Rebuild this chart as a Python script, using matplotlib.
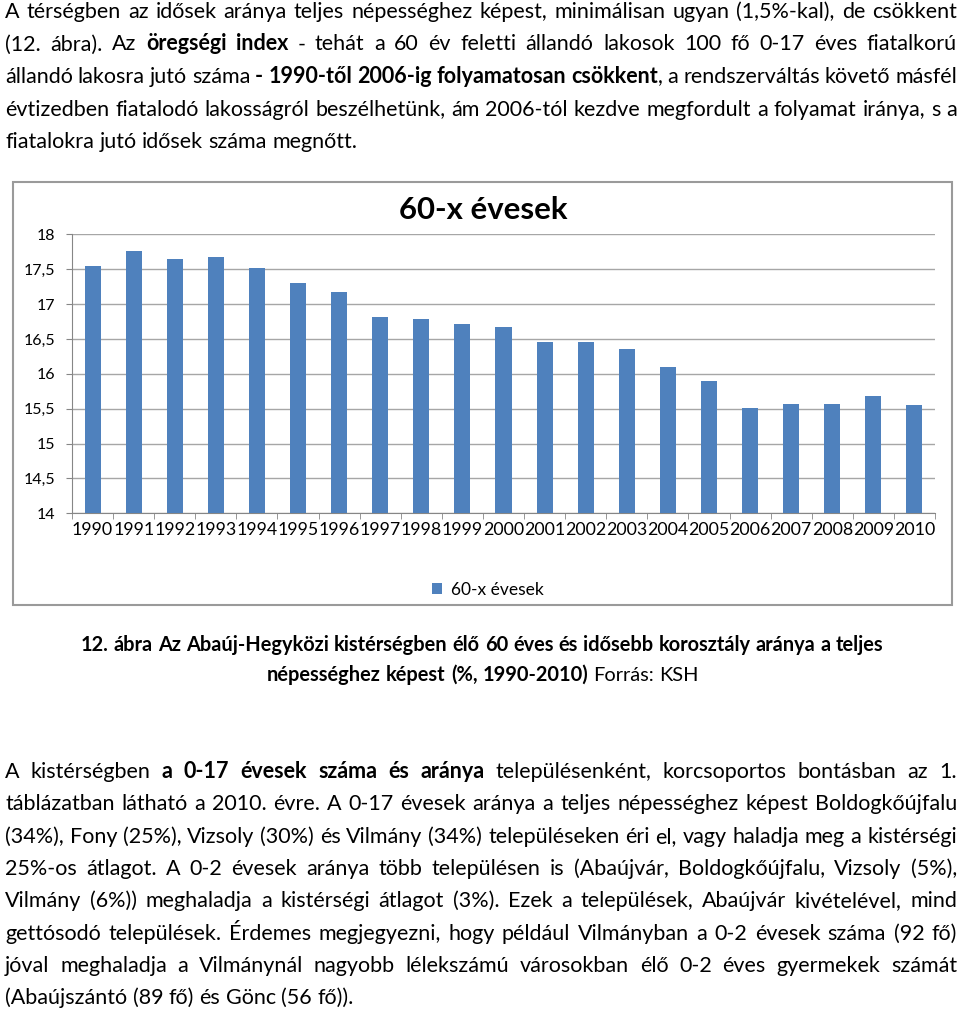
import matplotlib
matplotlib.use('Agg')
import matplotlib.pyplot as plt
from matplotlib.patches import Rectangle
import numpy as np

W, H = 960, 1017

# ---------------- data ----------------
years = ['1990', '1991', '1992', '1993', '1994', '1995', '1996', '1997', '1998', '1999',
         '2000', '2001', '2002', '2003', '2004', '2005', '2006', '2007', '2008', '2009', '2010']
values = [17.55, 17.76, 17.65, 17.68, 17.51, 17.30, 17.17, 16.82, 16.78, 16.71,
          16.67, 16.45, 16.45, 16.36, 16.10, 15.90, 15.51, 15.57, 15.57, 15.68, 15.55]
ytick_vals = [14, 14.5, 15, 15.5, 16, 16.5, 17, 17.5, 18]
ytick_labels = ['14', '14,5', '15', '15,5', '16', '16,5', '17', '17,5', '18']
series_name = '60-x évesek'
chart_title = '60-x évesek'

top_lines = [
    "A térségben az idősek aránya teljes népességhez képest, minimálisan ugyan (1,5%-kal), de csökkent",
    "(12. ábra).  Az **öregségi index** - tehát a 60 év feletti állandó lakosok 100 fő 0-17 éves fiatalkorú",
    "állandó lakosra jutó száma **- 1990-től 2006-ig folyamatosan csökkent**, a rendszerváltás követő másfél",
    "évtizedben fiatalodó lakosságról beszélhetünk, ám 2006-tól kezdve megfordult a folyamat iránya, s a",
    "fiatalokra jutó idősek száma megnőtt.",
]
caption_lines = [
    "**12. ábra Az Abaúj-Hegyközi kistérségben élő 60 éves és idősebb korosztály aránya a teljes**",
    "**népességhez képest (%, 1990-2010)** Forrás: KSH",
]
bottom_lines = [
    "A kistérségben **a 0-17 évesek száma és aránya** településenként, korcsoportos bontásban az 1.",
    "táblázatban látható a 2010. évre. A 0-17 évesek aránya a teljes népességhez képest Boldogkőújfalu",
    "(34%), Fony (25%), Vizsoly (30%) és Vilmány (34%) településeken éri el, vagy haladja meg a kistérségi",
    "25%-os átlagot. A 0-2 évesek aránya több településen is (Abaújvár, Boldogkőújfalu, Vizsoly (5%),",
    "Vilmány (6%)) meghaladja a kistérségi átlagot (3%). Ezek a települések, Abaújvár kivételével, mind",
    "gettósodó települések. Érdemes megjegyezni, hogy például Vilmányban a 0-2 évesek száma (92 fő)",
    "jóval meghaladja a Vilmánynál nagyobb lélekszámú városokban élő 0-2 éves gyermekek számát",
    "(Abaújszántó (89 fő) és Gönc (56  fő)).",
]

BODY_FONT = ['Lato', 'DejaVu Sans']
CHART_FONT = ['Lato', 'DejaVu Sans']

fig = plt.figure(figsize=(W / 100, H / 100), dpi=100)
fig.patch.set_facecolor('white')
renderer = fig.canvas.get_renderer()


def fx(x):
    return x / W


def fy(y):
    return 1 - y / H


def make_tokens(line):
    tokens, cur = [], []
    parts = line.split('**')
    for i, part in enumerate(parts):
        bold = (i % 2 == 1)
        words = part.split(' ')
        for j, w in enumerate(words):
            if j > 0 and cur:
                tokens.append(cur)
                cur = []
            if w:
                cur.append((w, bold))
    if cur:
        tokens.append(cur)
    return tokens


def text_width(s, size, bold=False, family=BODY_FONT):
    t = fig.text(0, 0, s, fontsize=size, fontweight='bold' if bold else 'normal', family=family)
    w = t.get_window_extent(renderer).width
    t.remove()
    return w


def draw_line(line, y, size, x0=5, x1=957, mode='justify', family=BODY_FONT, center=None):
    tokens = make_tokens(line)
    objs, widths = [], []
    for tok in tokens:
        runs, tw = [], 0
        for s, b in tok:
            t = fig.text(0, fy(y), s, fontsize=size, fontweight='bold' if b else 'normal',
                         family=family, va='baseline', ha='left', color='black')
            w = t.get_window_extent(renderer).width
            runs.append((t, w))
            tw += w
        objs.append(runs)
        widths.append(tw)
    space = text_width('a a', size, family=family) - text_width('aa', size, family=family)
    n = len(tokens)
    if mode == 'justify' and n > 1:
        gap = (x1 - x0 - sum(widths)) / (n - 1)
    else:
        gap = space
    total = sum(widths) + gap * (n - 1)
    if mode == 'center':
        start = center - total / 2
    else:
        start = x0
    x = start
    for runs, tw in zip(objs, widths):
        xx = x
        for t, w in runs:
            t.set_x(fx(xx))
            xx += w
        x += tw + gap


BODY_SIZE = 15.5

# top paragraph
top_base = [18, 50.5, 83, 115.5, 148]
for i, (ln, yb) in enumerate(zip(top_lines, top_base)):
    draw_line(ln, yb, BODY_SIZE, mode='justify' if i < len(top_lines) - 1 else 'left')

# bottom paragraph
bot_base = [778, 810.3, 842.6, 874.9, 907.2, 939.5, 971.8, 1004.1]
for i, (ln, yb) in enumerate(zip(bottom_lines, bot_base)):
    draw_line(ln, yb, BODY_SIZE, mode='justify' if i < len(bottom_lines) - 1 else 'left')

# caption
cap_w = text_width(caption_lines[0].replace('**', ''), 10, bold=True)
cap_size = 10 * 804 / cap_w
draw_line(caption_lines[0], 651, cap_size, mode='center', center=482)
draw_line(caption_lines[1], 681, cap_size, mode='center', center=483)

# chart frame
fig.patches.append(Rectangle((fx(13), fy(605)), (952 - 13) / W, (605 - 182) / H,
                             transform=fig.transFigure, fill=False,
                             edgecolor='#9a9a9a', lw=1.5, zorder=0))

# chart axes
ax = fig.add_axes([72 / W, fy(513.3), 863 / W, (513.3 - 234.3) / H])
xpos = np.arange(len(years))
ax.bar(xpos, values, width=0.39, color='#4F81BD', zorder=3, label=series_name)
ax.set_xlim(-0.5, len(years) - 0.5)
ax.set_ylim(ytick_vals[0], ytick_vals[-1])
ax.set_yticks(ytick_vals)
ax.set_yticklabels(ytick_labels, family=CHART_FONT, fontsize=11.5)
ax.set_xticks(xpos)
ax.set_xticklabels(years, family=CHART_FONT, fontsize=12.8)
ax.set_xticks(np.arange(-0.5, len(years), 1), minor=True)
ax.tick_params(axis='x', which='major', length=0, pad=6)
ax.tick_params(axis='x', which='minor', length=4.5, color='#868686', direction='out')
ax.tick_params(axis='y', which='major', length=4, color='#868686', direction='out', pad=8)
ax.yaxis.grid(True, color='#a6a6a6', lw=1, zorder=0)
ax.set_axisbelow(True)
for s in ['top', 'right']:
    ax.spines[s].set_visible(False)
for s in ['left', 'bottom']:
    ax.spines[s].set_color('#868686')

# title
tw10 = text_width(chart_title, 10, bold=True, family=CHART_FONT)
fig.text(fx(483), fy(210), chart_title, fontsize=10 * 169 / tw10, fontweight='bold',
         family=CHART_FONT, ha='center', va='center', color='black')

# legend
ax.legend(loc='center', bbox_to_anchor=(fx(488), fy(590)), bbox_transform=fig.transFigure,
          frameon=False, handlelength=0.6, handleheight=0.6, handletextpad=0.5,
          prop={'family': CHART_FONT, 'size': 12.5})

fig.savefig('out.png', dpi=100, facecolor='white')
